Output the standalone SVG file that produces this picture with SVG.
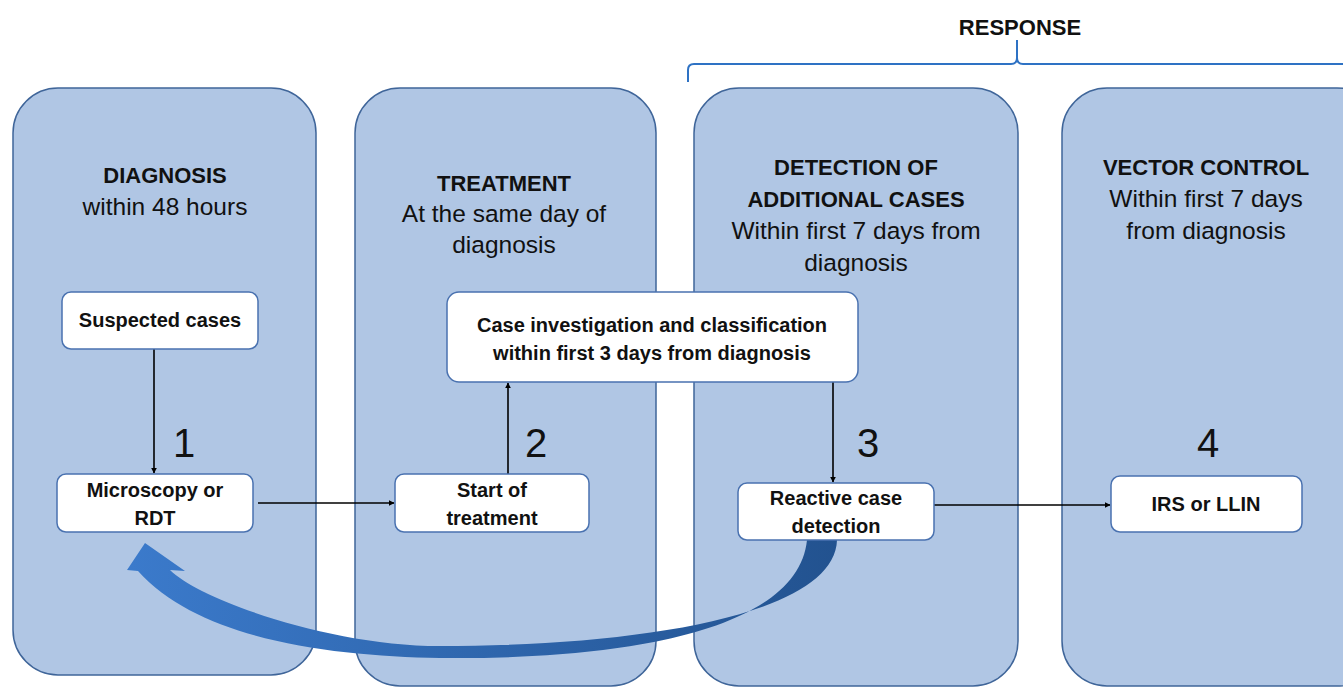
<svg xmlns="http://www.w3.org/2000/svg" width="1343" height="687" viewBox="0 0 1343 687">
<defs>
<style>
.panel{fill:#b0c6e4;stroke:#3f6599;stroke-width:1.5}
.box{fill:#ffffff;stroke:#4a72b0;stroke-width:1.5}
.t{font-family:"Liberation Sans",Arial,sans-serif;fill:#111;text-anchor:middle}
.h{font-weight:bold;font-size:22px}
.s{font-size:24.5px}
.b{font-weight:bold;font-size:20px}
.n{font-size:40px}
.conn{stroke:#000;stroke-width:1.6;fill:none;marker-end:url(#ah)}
</style>
<marker id="ah" viewBox="0 0 10 10" refX="9" refY="5" markerWidth="6" markerHeight="6" orient="auto" markerUnits="userSpaceOnUse">
<path d="M0,0 L10,5 L0,10 z" fill="#000"/>
</marker>
<linearGradient id="cg" x1="840" y1="0" x2="130" y2="0" gradientUnits="userSpaceOnUse">
<stop offset="0" stop-color="#22528f"/>
<stop offset="1" stop-color="#3b7acb"/>
</linearGradient>
</defs>
<rect width="1343" height="687" fill="#ffffff"/>

<g id="response">
<path d="M688 82 V70 Q688 64 694 64 H1011 Q1017 64 1017 58 V40 M1017 58 Q1017 64 1023 64 H1343" fill="none" stroke="#2e72c4" stroke-width="2"/>
<text class="t h" x="1020" y="35">RESPONSE</text>
</g>

<g id="panel-diagnosis">
<rect class="panel" x="13" y="88" width="303" height="587" rx="45"/>
<text class="t h" x="165" y="183">DIAGNOSIS</text>
<text class="t s" x="165" y="215">within 48 hours</text>
</g>
<g id="panel-treatment">
<rect class="panel" x="355" y="88" width="301" height="598" rx="45"/>
<text class="t h" x="504" y="191">TREATMENT</text>
<text class="t s" x="504" y="222">At the same day of</text>
<text class="t s" x="504" y="253">diagnosis</text>
</g>
<g id="panel-detection">
<rect class="panel" x="694" y="88" width="324" height="598" rx="45"/>
<text class="t h" x="856" y="175">DETECTION OF</text>
<text class="t h" x="856" y="207">ADDITIONAL CASES</text>
<text class="t s" x="856" y="239">Within first 7 days from</text>
<text class="t s" x="856" y="271">diagnosis</text>
</g>
<g id="panel-vector">
<rect class="panel" x="1062" y="88" width="320" height="598" rx="45"/>
<text class="t h" x="1206" y="175">VECTOR CONTROL</text>
<text class="t s" x="1206" y="207">Within first 7 days</text>
<text class="t s" x="1206" y="239">from diagnosis</text>
</g>

<g id="feedback-arrow">
<path d="M807 540 C798 632 620 660 440 658 C330 656 200 640 138 571 L127 570 L145 543 L185 571 L170 570 C200 600 330 646 440 646 C640 646 835 615 837 540 Z" fill="url(#cg)"/>
</g>

<g id="connectors">
<line class="conn" x1="154" y1="349" x2="154" y2="473"/>
<line class="conn" x1="258" y1="503" x2="394" y2="503"/>
<line class="conn" x1="508" y1="474" x2="508" y2="383"/>
<line class="conn" x1="833" y1="382" x2="833" y2="482"/>
<line class="conn" x1="934" y1="505" x2="1110" y2="505"/>
</g>

<g id="labels">
<text class="t n" x="184" y="457">1</text>
<text class="t n" x="536" y="457">2</text>
<text class="t n" x="868" y="457">3</text>
<text class="t n" x="1208" y="457">4</text>
</g>

<g id="node-suspected">
<rect class="box" x="62" y="292" width="196" height="57" rx="9"/>
<text class="t b" x="160" y="327">Suspected cases</text>
</g>
<g id="node-microscopy">
<rect class="box" x="57" y="474" width="196" height="58" rx="9"/>
<text class="t b" x="155" y="497">Microscopy or</text>
<text class="t b" x="155" y="525">RDT</text>
</g>
<g id="node-start">
<rect class="box" x="395" y="474" width="194" height="58" rx="9"/>
<text class="t b" x="492" y="497">Start of</text>
<text class="t b" x="492" y="525">treatment</text>
</g>
<g id="node-investigation">
<rect class="box" x="447" y="292" width="411" height="90" rx="12"/>
<text class="t b" x="652" y="332">Case investigation and classification</text>
<text class="t b" x="652" y="360">within first 3 days from diagnosis</text>
</g>
<g id="node-reactive">
<rect class="box" x="738" y="483" width="196" height="57" rx="9"/>
<text class="t b" x="836" y="505">Reactive case</text>
<text class="t b" x="836" y="533">detection</text>
</g>
<g id="node-irs">
<rect class="box" x="1111" y="476" width="191" height="56" rx="9"/>
<text class="t b" x="1206" y="511">IRS or LLIN</text>
</g>
</svg>
